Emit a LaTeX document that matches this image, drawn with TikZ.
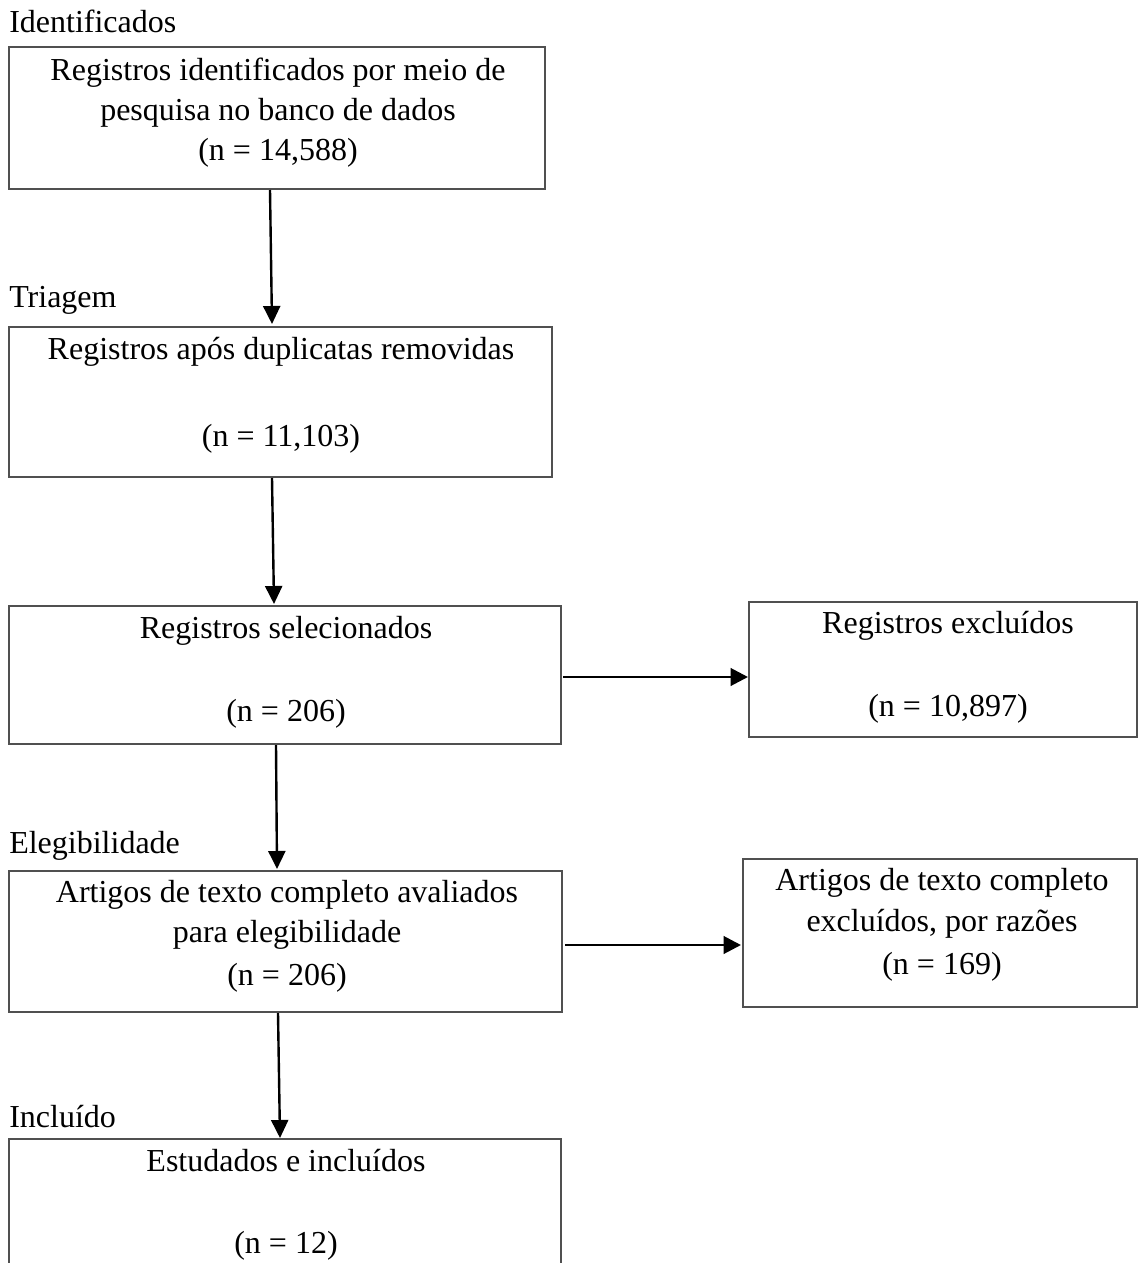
\documentclass[tikz,border=0pt]{standalone}
\usepackage{fontspec}
\setmainfont{Liberation Serif}
\usetikzlibrary{arrows.meta,calc}
\definecolor{boxgray}{HTML}{505050}
\begin{document}
\begin{tikzpicture}[x=0.75pt,y=-0.75pt,
  box/.style={draw=boxgray, line width=1pt, rectangle, inner sep=0pt, outer sep=0pt},
  txt/.style={anchor=base, inner sep=0pt, font=\fontsize{24pt}{30pt}\selectfont},
  lbl/.style={anchor=base west, inner sep=0pt, font=\fontsize{24pt}{30pt}\selectfont},
  arr/.style={draw=black, line width=1.8pt, -{Triangle[length=13.5pt, width=12.75pt]}},
  harr/.style={draw=black, line width=2.2pt, -{Triangle[length=13pt, width=13pt]}}]
\useasboundingbox (0,0) rectangle (1139,1263);
\clip (0,0) rectangle (1139,1263);

% boxes (centre x, centre y, width, height in px)
\node[box, minimum width=536*0.75pt, minimum height=142*0.75pt] (b1) at (277,118) {};
\node[box, minimum width=543*0.75pt, minimum height=150*0.75pt] (b2) at (280.5,402) {};
\node[box, minimum width=552*0.75pt, minimum height=138*0.75pt] (b3) at (285,675) {};
\node[box, minimum width=388*0.75pt, minimum height=135*0.75pt] (e1) at (943,669.5) {};
\node[box, minimum width=553*0.75pt, minimum height=141*0.75pt] (b4) at (285.5,941.5) {};
\node[box, minimum width=394*0.75pt, minimum height=148*0.75pt] (e2) at (940,933) {};
\node[box, minimum width=552*0.75pt, minimum height=136*0.75pt] (b5) at (285,1207) {};

% stage labels
\node[lbl] (l1) at (9,33) {Identificados};
\node[lbl] (l2) at (9,307) {Triagem};
\node[lbl] (l3) at (9,853) {Elegibilidade};
\node[lbl] (l4) at (9,1127) {Incluído};

% box texts
\node[txt] (t11) at (278,80) {Registros identificados por meio de};
\node[txt] (t12) at (278,120) {pesquisa no banco de dados};
\node[txt] (t13) at (278,160) {(n = 14,588)};

\node[txt] (t21) at (281,359) {Registros após duplicatas removidas};
\node[txt] (t22) at (281,446) {(n = 11,103)};

\node[txt] (t31) at (286,638) {Registros selecionados};
\node[txt] (t32) at (286,721) {(n = 206)};

\node[txt] (t41) at (948,633) {Registros excluídos};
\node[txt] (t42) at (948,716) {(n = 10,897)};

\node[txt] (t51) at (287,902) {Artigos de texto completo avaliados};
\node[txt] (t52) at (287,942) {para elegibilidade};
\node[txt] (t53) at (287,985) {(n = 206)};

\node[txt] (t61) at (942,890) {Artigos de texto completo};
\node[txt] (t62) at (942,931) {excluídos, por razões};
\node[txt] (t63) at (942,974) {(n = 169)};

\node[txt] (t71) at (286,1171) {Estudados e incluídos};
\node[txt] (t72) at (286,1253) {(n = 12)};

% connectors
\draw[arr] ($(b1.south)+(-7,1)$) -- ($(b2.north)+(-8.5,-3)$);
\draw[arr] ($(b2.south)+(-8.5,1)$) -- ($(b3.north)+(-11,-2)$);
\draw[harr] ($(b3.east)+(2,2)$) -- ($(e1.west)+(-1,7.5)$);
\draw[arr] ($(b3.south)+(-9,1)$) -- ($(b4.north)+(-8.5,-2)$);
\draw[harr] ($(b4.east)+(3,3.5)$) -- ($(e2.west)+(-2,12)$);
\draw[arr] ($(b4.south)+(-7.5,1)$) -- ($(b5.north)+(-5,-1)$);
\end{tikzpicture}
\end{document}
